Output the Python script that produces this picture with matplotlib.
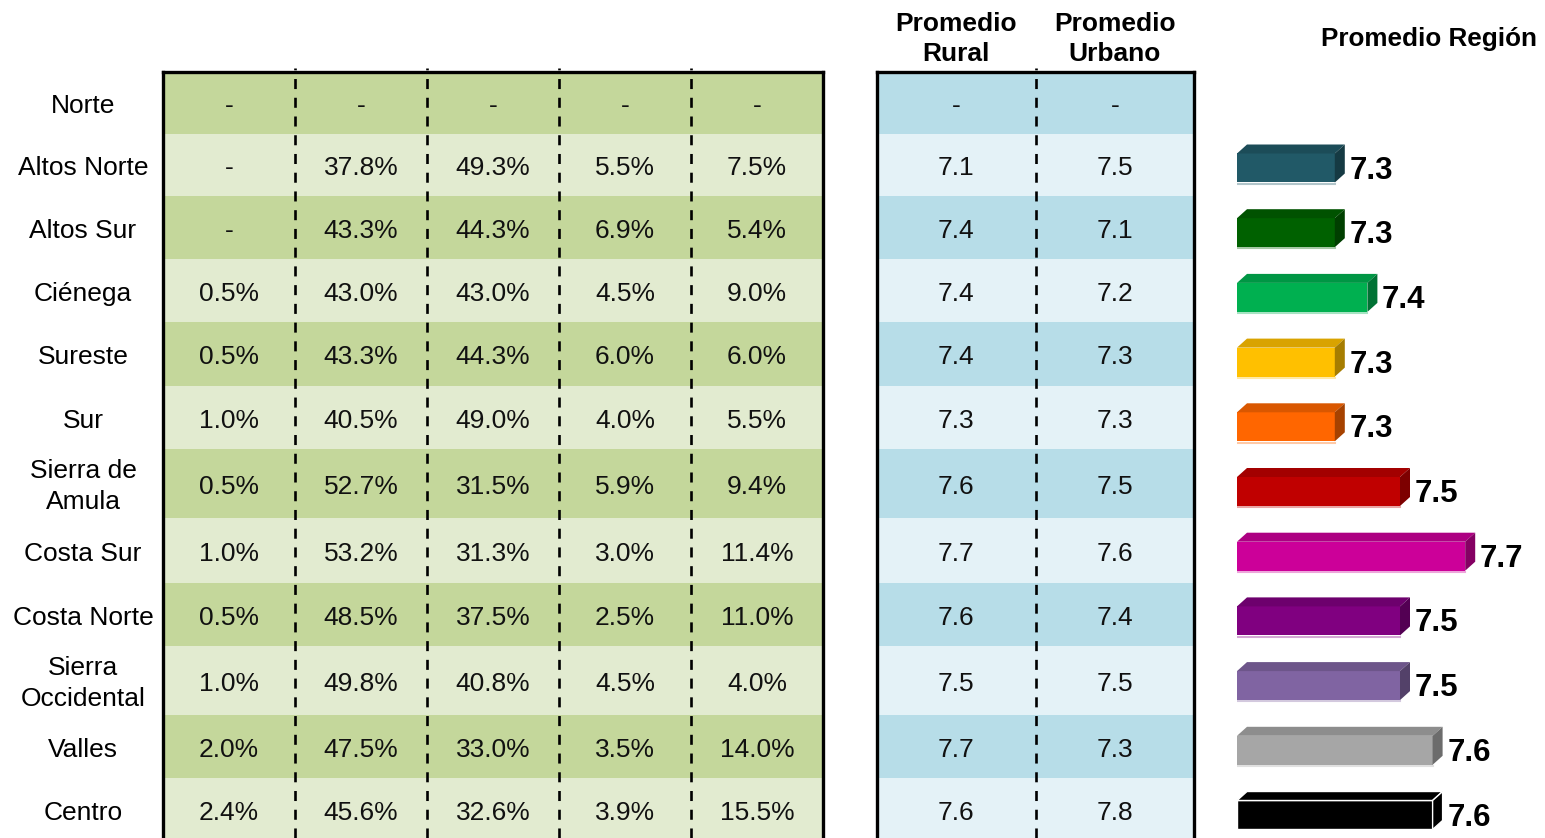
import numpy as np
import matplotlib.pyplot as plt
from matplotlib.patches import Polygon

plt.rcParams['font.family'] = ['Liberation Sans', 'DejaVu Sans']

W, H = 1545, 838

# datos
regiones = ['Norte', 'Altos Norte', 'Altos Sur', 'Ciénega', 'Sureste', 'Sur',
            'Sierra de\nAmula', 'Costa Sur', 'Costa Norte', 'Sierra\nOccidental',
            'Valles', 'Centro']
col1 = [None, None, None, 0.5, 0.5, 1.0, 0.5, 1.0, 0.5, 1.0, 2.0, 2.4]
col2 = [None, 37.8, 43.3, 43.0, 43.3, 40.5, 52.7, 53.2, 48.5, 49.8, 47.5, 45.6]
col3 = [None, 49.3, 44.3, 43.0, 44.3, 49.0, 31.5, 31.3, 37.5, 40.8, 33.0, 32.6]
col4 = [None, 5.5, 6.9, 4.5, 6.0, 4.0, 5.9, 3.0, 2.5, 4.5, 3.5, 3.9]
col5 = [None, 7.5, 5.4, 9.0, 6.0, 5.5, 9.4, 11.4, 11.0, 4.0, 14.0, 15.5]
prom_rural = [None, 7.1, 7.4, 7.4, 7.4, 7.3, 7.6, 7.7, 7.6, 7.5, 7.7, 7.6]
prom_urbano = [None, 7.5, 7.1, 7.2, 7.3, 7.3, 7.5, 7.6, 7.4, 7.5, 7.3, 7.8]
prom_region = [7.3, 7.3, 7.4, 7.3, 7.3, 7.5, 7.7, 7.5, 7.5, 7.6, 7.6]
colores = ['#215967', '#006100', '#00B050', '#FFC000', '#FF6600', '#C00000',
           '#CC0099', '#800080', '#8064A2', '#A6A6A6', '#000000']

row_h = np.array([62, 62, 63, 63, 64, 63, 69, 65, 63, 69, 63, 63])
edges = np.concatenate([[0], np.cumsum(row_h)])
centers = edges[:-1] + row_h / 2
top = 72
span = H - top

fig = plt.figure(figsize=(W / 100, H / 100), dpi=100)

def tabla(ax, cols, fmt, oscuro, claro):
    n = len(cols)
    ax.set_xlim(0, n)
    ax.set_ylim(span, 0)
    ax.axis('off')
    fondo = [oscuro if i % 2 == 0 else claro for i in range(len(centers))]
    for j, c in enumerate(cols):
        ax.barh(centers, 1, left=j, height=row_h, color=fondo, linewidth=0)
        for i, v in enumerate(c):
            s = '-' if v is None else fmt(v)
            ax.text(j + 0.5, centers[i] + 3, s, ha='center', va='center',
                    fontsize=19, color='#111111')
    for j in range(1, n):
        ax.axvline(j, color='black', lw=1.9, ls=(0, (3.8, 3.3)), ymax=1.005,
                   clip_on=False)
    for x in (0, n):
        ax.axvline(x, color='black', lw=2.4, clip_on=False)
    ax.axhline(0, color='black', lw=2.4, clip_on=False, solid_capstyle='projecting')

# tabla verde
ax1 = fig.add_axes([163 / W, 0, 660 / W, span / H])
tabla(ax1, [col1, col2, col3, col4, col5], lambda v: f'{v:.1f}%', '#C4D79B', '#E2EBD0')
for i, r in enumerate(regiones):
    ax1.text(-0.606, centers[i] + 3, r, ha='center', va='center', fontsize=19,
             clip_on=False, linespacing=1.35)

# tabla azul
ax2 = fig.add_axes([877 / W, 0, 317 / W, span / H])
tabla(ax2, [prom_rural, prom_urbano], lambda v: f'{v:.1f}', '#B7DDE8', '#E4F2F7')
for j, t in enumerate(['Promedio\nRural', 'Promedio\nUrbano']):
    ax2.text(j + 0.5, -33, t, ha='center', va='center', fontsize=19,
             fontweight='bold', clip_on=False, linespacing=1.35)

# barras 3D
base = 7.0
escala = 326.0
ax3 = fig.add_axes([1237 / W, 0, (W - 1237) / W, (H - 136) / H])
ax3.set_xlim(base, base + (W - 1237) / escala)
ax3.set_ylim((H - 168) / 64.7, (136 - 168) / 64.7)
ax3.axis('off')
idx = np.arange(len(prom_region))
h = 29 / 64.7
dx = 10 / escala
dy = 9 / 64.7
bars = ax3.barh(idx, np.array(prom_region) - base, left=base, height=h,
                color=colores, linewidth=0, zorder=3)

def tono(c, f):
    rgb = np.array(plt.matplotlib.colors.to_rgb(c))
    return tuple(rgb * f)

for b, c, v in zip(bars, colores, prom_region):
    x0, y0 = b.get_x(), b.get_y()
    x1, y1 = x0 + b.get_width(), y0 + b.get_height()
    borde = 'white' if c == '#000000' else 'none'
    sup = Polygon([(x0, y0), (x1, y0), (x1 + dx, y0 - dy), (x0 + dx, y0 - dy)],
                  closed=True, facecolor=tono(c, 0.85), edgecolor=borde, lw=1, zorder=3)
    lado = Polygon([(x1, y0), (x1 + dx, y0 - dy), (x1 + dx, y1 - dy), (x1, y1)],
                   closed=True, facecolor=tono(c, 0.65), edgecolor=borde, lw=1, zorder=3)
    ax3.add_patch(sup)
    ax3.add_patch(lado)
    if c == '#000000':
        b.set_edgecolor('white')
        b.set_linewidth(1)
    else:
        claro = tuple(np.array(plt.matplotlib.colors.to_rgb(c)) * 0.35 + 0.65)
        ax3.plot([x0, x1], [y1 + 0.02, y1 + 0.02], color=claro, lw=1.5, zorder=2)
    ax3.text(x1 + dx + 0.014, b.get_y() + h / 2 + 0.04, f'{v:.1f}', ha='left',
             va='center', fontsize=22.5, fontweight='bold')

fig.text(1429 / W, 1 - 39 / H, 'Promedio Región', ha='center', va='center',
         fontsize=18.8, fontweight='bold')

fig.savefig('out.png', dpi=100)
